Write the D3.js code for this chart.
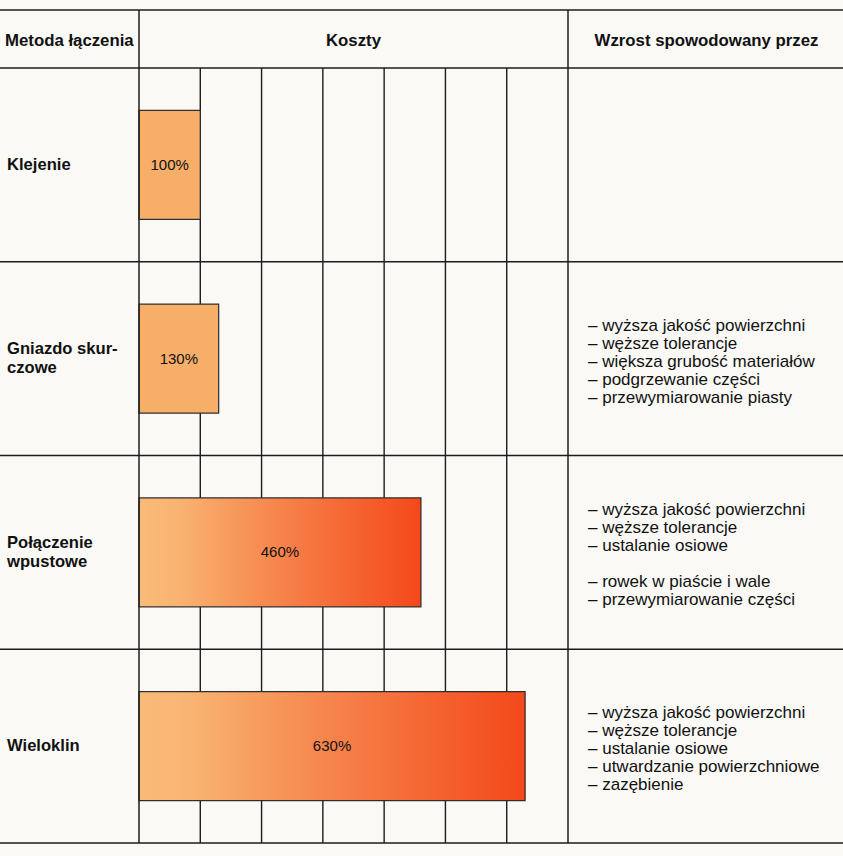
<!DOCTYPE html>
<html>
<head>
<meta charset="utf-8">
<script src="https://cdn.jsdelivr.net/npm/d3@7/dist/d3.min.js"></script>
<style>
  html, body { margin: 0; padding: 0; background: #faf9f6; }
  svg { display: block; font-family: "Liberation Sans", Arial, Helvetica, sans-serif; }
</style>
</head>
<body>
<svg id="chart" width="843" height="856"></svg>
<script>
// ---- data ----
const headers = ["Metoda łączenia", "Koszty", "Wzrost spowodowany przez"];
const methods = ["Klejenie", "Gniazdo skurczowe", "Połączenie wpustowe", "Wieloklin"];
const methodLines = [
  ["Klejenie"],
  ["Gniazdo skur-", "czowe"],
  ["Połączenie", "wpustowe"],
  ["Wieloklin"]
];
const costs = [100, 130, 460, 630];
const costLabels = ["100%", "130%", "460%", "630%"];
const gridTicks = [100, 200, 300, 400, 500, 600];
const reasons = [
  [],
  ["wyższa jakość powierzchni", "węższe tolerancje", "większa grubość materiałów", "podgrzewanie części", "przewymiarowanie piasty"],
  ["wyższa jakość powierzchni", "węższe tolerancje", "ustalanie osiowe", "", "rowek w piaście i wale", "przewymiarowanie części"],
  ["wyższa jakość powierzchni", "węższe tolerancje", "ustalanie osiowe", "utwardzanie powierzchniowe", "zazębienie"]
];

// ---- layout ----
const W = 843;
const tableTop = 10, headBottom = 68, tableBottom = 843;
const col1 = 139, col2 = 568;
const ink = "#1c1c1c";

const svg = d3.select("#chart");
const x = d3.scaleLinear().domain([0, 700]).range([col1, col2]);
const y = d3.scaleBand().domain(methods).range([headBottom, tableBottom]).padding(0);
const barH = 109;

// gradients
const defs = svg.append("defs");
const light = "#f9bb78", red = "#f3481a";
const mix = d3.interpolateRgb(light, red);
const intensity = d3.scaleLinear().domain([130, 460]).range([0.05, 1]).clamp(true);
const smallCol = "#f6ae69";
methods.forEach((m, i) => {
  const g = defs.append("linearGradient").attr("id", "g" + i)
    .attr("x1", "0").attr("x2", "1").attr("y1", "0").attr("y2", "0");
  const k = intensity(costs[i]);
  const offs = [0, 0.15, 0.35, 0.55, 0.75, 0.9, 1];
  offs.forEach(o => {
    const t = Math.max(0, (o - 0.1) / 0.9);
    const c = k < 0.2 ? smallCol : mix(Math.pow(t, 0.9) * k);
    g.append("stop").attr("offset", o).attr("stop-color", c);
  });
});

// grid lines (inside Koszty column)
svg.append("g").selectAll("line").data(gridTicks).join("line")
  .attr("x1", d => x(d)).attr("x2", d => x(d))
  .attr("y1", headBottom).attr("y2", tableBottom)
  .attr("stroke", ink).attr("stroke-width", 1.4);

// bars
const bars = svg.append("g");
bars.selectAll("rect").data(costs).join("rect")
  .attr("x", x(0))
  .attr("y", (d, i) => y(methods[i]) + (y.bandwidth() - barH) / 2)
  .attr("width", d => x(d) - x(0))
  .attr("height", barH)
  .attr("fill", (d, i) => `url(#g${i})`)
  .attr("stroke", "#2a2a2a").attr("stroke-width", 1.2);

bars.selectAll("text").data(costs).join("text")
  .attr("x", d => (x(0) + x(d)) / 2)
  .attr("y", (d, i) => y(methods[i]) + y.bandwidth() / 2 + 5)
  .attr("text-anchor", "middle")
  .attr("font-size", 15)
  .attr("fill", "#111")
  .text((d, i) => costLabels[i]);

// horizontal rules
const hLines = [tableTop, headBottom].concat(methods.map(m => y(m) + y.bandwidth()));
svg.append("g").selectAll("line").data(hLines).join("line")
  .attr("x1", 0).attr("x2", W)
  .attr("y1", d => d).attr("y2", d => d)
  .attr("stroke", ink).attr("stroke-width", 1.5);

// column borders
svg.append("g").selectAll("line").data([0, 700]).join("line")
  .attr("x1", d => x(d)).attr("x2", d => x(d))
  .attr("y1", tableTop).attr("y2", tableBottom)
  .attr("stroke", ink).attr("stroke-width", 1.5);

// headers
const headX = [5, (col1 + col2) / 2, (col2 + W) / 2 + 1];
const headAnchor = ["start", "middle", "middle"];
svg.append("g").selectAll("text").data(headers).join("text")
  .attr("x", (d, i) => headX[i])
  .attr("y", 46)
  .attr("text-anchor", (d, i) => headAnchor[i])
  .attr("font-size", 16.8).attr("font-weight", "bold").attr("fill", "#111")
  .text(d => d);

// method labels
methods.forEach((m, i) => {
  const lines = methodLines[i];
  const lh = 19;
  const cy = y(m) + y.bandwidth() / 2 - 1;
  const y0 = cy - (lines.length - 1) * lh / 2 + 6;
  svg.append("text")
    .attr("font-size", 16.6).attr("font-weight", "bold").attr("fill", "#111")
    .selectAll("tspan").data(lines).join("tspan")
    .attr("x", 7).attr("y", (d, j) => y0 + j * lh)
    .text(d => d);
});

// reasons
methods.forEach((m, i) => {
  const lines = reasons[i];
  if (!lines.length) return;
  const lh = 18;
  const cy = y(m) + y.bandwidth() / 2 + 2;
  const y0 = cy - (lines.length - 1) * lh / 2 + 6;
  svg.append("text")
    .attr("font-size", 17).attr("fill", "#111")
    .selectAll("tspan").data(lines).join("tspan")
    .attr("x", 588).attr("y", (d, j) => y0 + j * lh)
    .text(d => d ? "– " + d : "");
});
</script>
</body>
</html>
